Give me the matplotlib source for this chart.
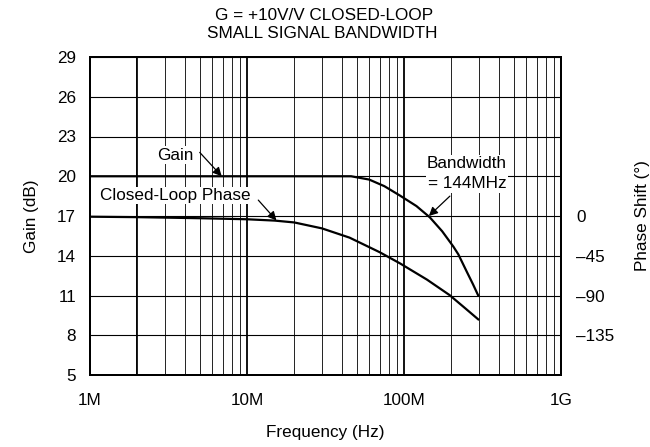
import numpy as np
import matplotlib
matplotlib.use("Agg")
import matplotlib.pyplot as plt

plt.rcParams['font.family'] = ['Liberation Sans', 'DejaVu Sans']
plt.rcParams['font.size'] = 12.3

# gain (dB) vs frequency (Hz)
gain_f = [1e6, 46e6, 60e6, 75e6, 94e6, 120e6, 146e6, 175e6, 206e6, 222e6, 251e6, 275e6, 297e6]
gain_db = [20.0, 20.0, 19.75, 19.25, 18.55, 17.75, 16.9, 15.85, 14.7, 14.1, 12.8, 11.85, 11.0]

# closed-loop phase (deg) vs frequency (Hz)
phase_f = [1e6, 2e6, 5e6, 10e6, 15e6, 20e6, 30e6, 45e6, 70e6, 94e6, 140e6, 195e6, 240e6, 297e6]
phase_deg = [-0.8, -1.3, -2.5, -3.7, -5.2, -7.3, -14.0, -24.5, -41.0, -53.5, -72.0, -89.5, -103.0, -117.0]

x_ticks = [1e6, 1e7, 1e8, 1e9]
x_labels = ['1M', '10M', '100M', '1G']
gain_ticks = [5, 8, 11, 14, 17, 20, 23, 26, 29]
phase_ticks = [0, -45, -90, -135]
phase_labels = ['0', '\u201345', '\u201390', '\u2013135']
bold_grid = [2e6]


fig = plt.figure(figsize=(6.5, 4.47), dpi=100)
ax = fig.add_axes([90 / 650, 1 - 375 / 447, 471 / 650, 318 / 447])
ax2 = ax.twinx()

ax.set_xscale('log')
ax.set_xlim(1e6, 1e9)
ax.set_ylim(5, 29)
ax2.set_ylim(-180, 180)

# grid
ax.set_xticks(x_ticks)
ax.set_xticklabels(x_labels)
ax.xaxis.set_minor_formatter(matplotlib.ticker.NullFormatter())
ax.set_yticks(gain_ticks)
ax.grid(True, which='major', axis='x', color='black', lw=1.3)
ax.grid(True, which='minor', axis='x', color='#222222', lw=0.7)
ax.grid(True, which='major', axis='y', color='black', lw=0.8)
for f in bold_grid:
    ax.axvline(f, color='black', lw=1.4, zorder=0.5)
ax.set_axisbelow(True)

ax.tick_params(axis='both', which='both', length=0)
ax.tick_params(axis='x', pad=13)
ax.tick_params(axis='y', pad=10)
ax2.set_yticks(phase_ticks)
ax2.set_yticklabels(phase_labels)
ax2.tick_params(axis='y', length=0, pad=11)

for a in (ax, ax2):
    for s in a.spines.values():
        s.set_linewidth(1.4)

ax.plot(gain_f, gain_db, color='black', lw=1.6, zorder=3)
ax2.plot(phase_f, phase_deg, color='black', lw=1.6, zorder=3)

ax.set_xlabel('Frequency (Hz)', labelpad=12)
ax.set_ylabel('Gain (dB)', labelpad=13)
ax2.set_ylabel('Phase Shift (\u00b0)', labelpad=15)

fig.text(324 / 650, 1 - 15 / 447, 'G = +10V/V CLOSED-LOOP', ha='center', va='center')
fig.text(322 / 650, 1 - 33 / 447, 'SMALL SIGNAL BANDWIDTH', ha='center', va='center')

arrow = dict(arrowstyle='-|>', color='black', lw=0.9, mutation_scale=13,
             shrinkA=0, shrinkB=0)
box = dict(facecolor='white', edgecolor='none', pad=1)

# labels
ax.text(3.5e6, 21.6, 'Gain', ha='center', va='center', bbox=box, zorder=4)
ax.text(3.5e6, 18.55, 'Closed-Loop Phase', ha='center', va='center', bbox=box, zorder=4)
ax.text(252e6, 20.2, 'Bandwidth\n= 144MHz', ha='center', va='center', bbox=box,
        linespacing=1.45, zorder=4)

# arrows
ax.annotate('', xy=(6.9e6, 20), xytext=(5.0e6, 21.8), arrowprops=arrow, zorder=5)
ax2.annotate('', xy=(15.4e6, -5.0), xytext=(11.8e6, 18.2),
             textcoords=ax.transData, arrowprops=arrow, zorder=5)
ax.annotate('', xy=(144e6, 17), xytext=(196e6, 18.5), arrowprops=arrow, zorder=5)

fig.savefig('out.png', dpi=100)
